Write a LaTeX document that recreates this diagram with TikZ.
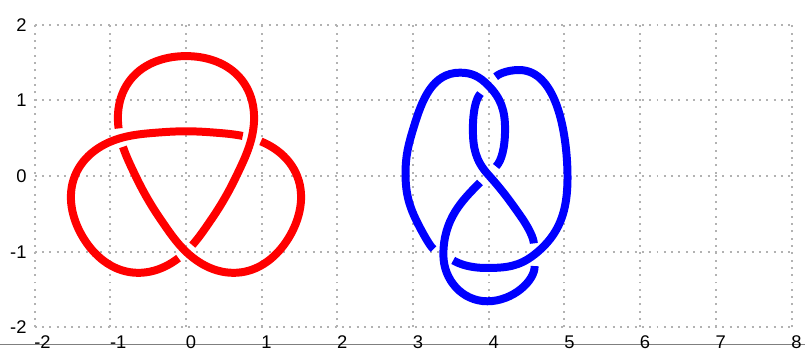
\documentclass[tikz,border=0pt]{standalone}
\usepackage{fontspec}
\setmainfont{Liberation Sans}
\begin{document}
\begin{tikzpicture}[
    declare function={
      knotPoly(\u)=1+\u*(0.638+\u*(0.1815+\u*(-0.141-0.0945*\u)));
      knotRad(\t)=knotPoly(cos(1.5*(\t-90)));
    },
    gridLine/.style={black!30, line width=0.75pt, dash pattern=on 0.75pt off 2pt},
    tickLabel/.style={inner sep=0pt, font=\fontsize{6.9}{8}\selectfont},
    trefoilStrand/.style={draw=trefoilColour, line width=3pt},
    eightStrand/.style={draw=eightColour, line width=3pt, shorten <=0.15cm, shorten >=0.15cm},
  ]
    \definecolor{trefoilColour}{HTML}{FF0000}
    \definecolor{eightColour}{HTML}{0000FF}
    \definecolor{axisColour}{HTML}{7F7F7F}

    \useasboundingbox (-2.457,-2.312) rectangle (8.177,2.325);

    % Draw grid
    \draw[gridLine] (-2,-2) grid (8,2);

    % Bottom axis
    \coordinate (axisL) at (-2.457,-2.223);
    \coordinate (axisR) at (8.177,-2.223);
    \draw[axisColour, line width=0.55pt] (axisL) -- (axisR);

    % Label x-axis and y-axis
    \foreach \x in {-2,...,8}
        \node[tickLabel, anchor=base west] (xl\x) at (\x-0.01,-2.276) {\x};
    \foreach \y in {-2,...,2}
        \node[tickLabel, anchor=east] (yl\y) at (-2.10,\y) {\y};

    % Trefoil: three congruent arcs, r = f(cos(3(t-90)/2)), broken at t = 150, 390, 630
    \foreach \a in {0,240,480}
        \draw[trefoilStrand] plot[domain=155.2+\a:384.8+\a, samples=120, variable=\t]
            ({knotRad(\t)*cos(\t)},{knotRad(\t)*sin(\t)});

    % Figure-eight knot: crossings C1 (top) .. C4 (lower left)
    \coordinate (C1) at (3.99,1.20);
    \coordinate (C2) at (3.99,0.02);
    \coordinate (C3) at (4.60,-1.04);
    \coordinate (C4) at (3.40,-1.04);

    % S-strand through the middle
    \draw[eightStrand] (C1) to[out=228,in=90] (3.79,0.62) to[out=270,in=132] (C2)
        to[out=312,in=125] (4.42,-0.53) to[out=305,in=92] (C3);
    % bottom loop
    \draw[eightStrand] (C3) to[out=272,in=0] (3.98,-1.655) to[out=180,in=270] (C4)
        to[out=90,in=225] (C2);
    % left loop
    \draw[eightStrand] (C2) to[out=45,in=270] (4.215,0.62) to[out=90,in=315] (C1)
        to[out=135,in=0] (3.62,1.365) to[out=180,in=73] (3.01,0.65)
        to[out=253,in=90] (2.90,0.03) to[out=270,in=118] (3.10,-0.70)
        to[out=298,in=150] (C4);
    % right loop
    \draw[eightStrand] (C4) to[out=330,in=180] (3.97,-1.215) to[out=0,in=218] (C3)
        to[out=38,in=270] (5.04,-0.02) to[out=90,in=0,looseness=0.85] (4.40,1.40)
        to[out=180,in=48] (C1);

\end{tikzpicture}
\end{document}
